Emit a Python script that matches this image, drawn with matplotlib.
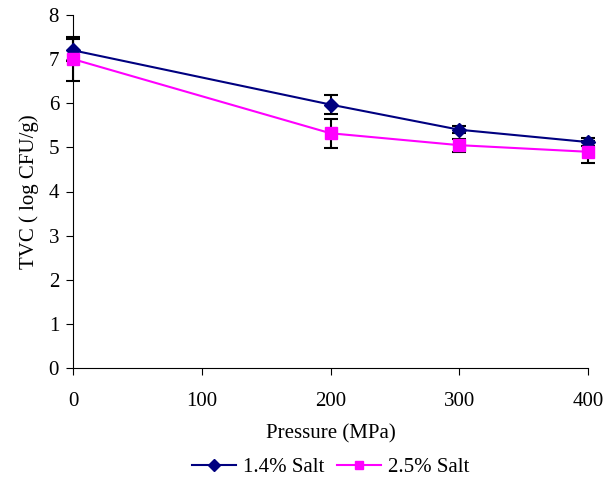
import matplotlib.pyplot as plt
from matplotlib.lines import Line2D

plt.rcParams['font.family'] = 'Liberation Serif'

pressure = [0, 200, 300, 400]
salt_14 = [7.20, 5.97, 5.40, 5.12]
salt_14_err = [0.25, 0.22, 0.08, 0.10]
salt_25 = [7.00, 5.32, 5.05, 4.90]
salt_25_err = [0.50, 0.33, 0.15, 0.25]

blue = '#000080'
pink = '#FF00FF'

fig = plt.figure(figsize=(6.11, 4.82), dpi=100)
ax = fig.add_axes([73 / 611, 1 - 368 / 482, (588 - 73) / 611, (368 - 15) / 482])

for y, err, col, mk, ms in [(salt_14, salt_14_err, blue, 'D', 7),
                             (salt_25, salt_25_err, pink, 's', 8)]:
    c = ax.errorbar(pressure, y, yerr=err, color=col, marker=mk, markersize=ms,
                    linewidth=1.5, ecolor='black', elinewidth=1.5, capsize=5, capthick=1.5,
                    zorder=3)
    parts = [c.lines[0]] + list(c.lines[1]) + list(c.lines[2])
    for art in parts:
        art.set_clip_on(False)

ax.set_xlim(0, 400)
ax.set_ylim(0, 8)
ax.set_xticks([0, 100, 200, 300, 400])
ax.set_yticks(range(0, 9))
ax.spines['top'].set_visible(False)
ax.spines['right'].set_visible(False)
ax.tick_params(axis='y', direction='out', length=5, labelsize=15, pad=5)
ax.tick_params(axis='x', direction='out', length=5, labelsize=15, pad=12)

ax.set_xlabel('Pressure (MPa)', fontsize=15, labelpad=10)
ax.set_ylabel('TVC ( log CFU/g)', fontsize=15, labelpad=7)

handles = [Line2D([], [], color=blue, marker='D', markersize=6, linewidth=1.5),
           Line2D([], [], color=pink, marker='s', markersize=6, linewidth=1.5)]
ax.legend(handles, ['1.4% Salt', '2.5% Salt'], loc='upper center',
          bbox_to_anchor=(0.5, -0.2), ncol=2, frameon=False,
          fontsize=15, handlelength=2.1, columnspacing=0.6, handletextpad=0.35)

fig.savefig('out.png', dpi=100)
